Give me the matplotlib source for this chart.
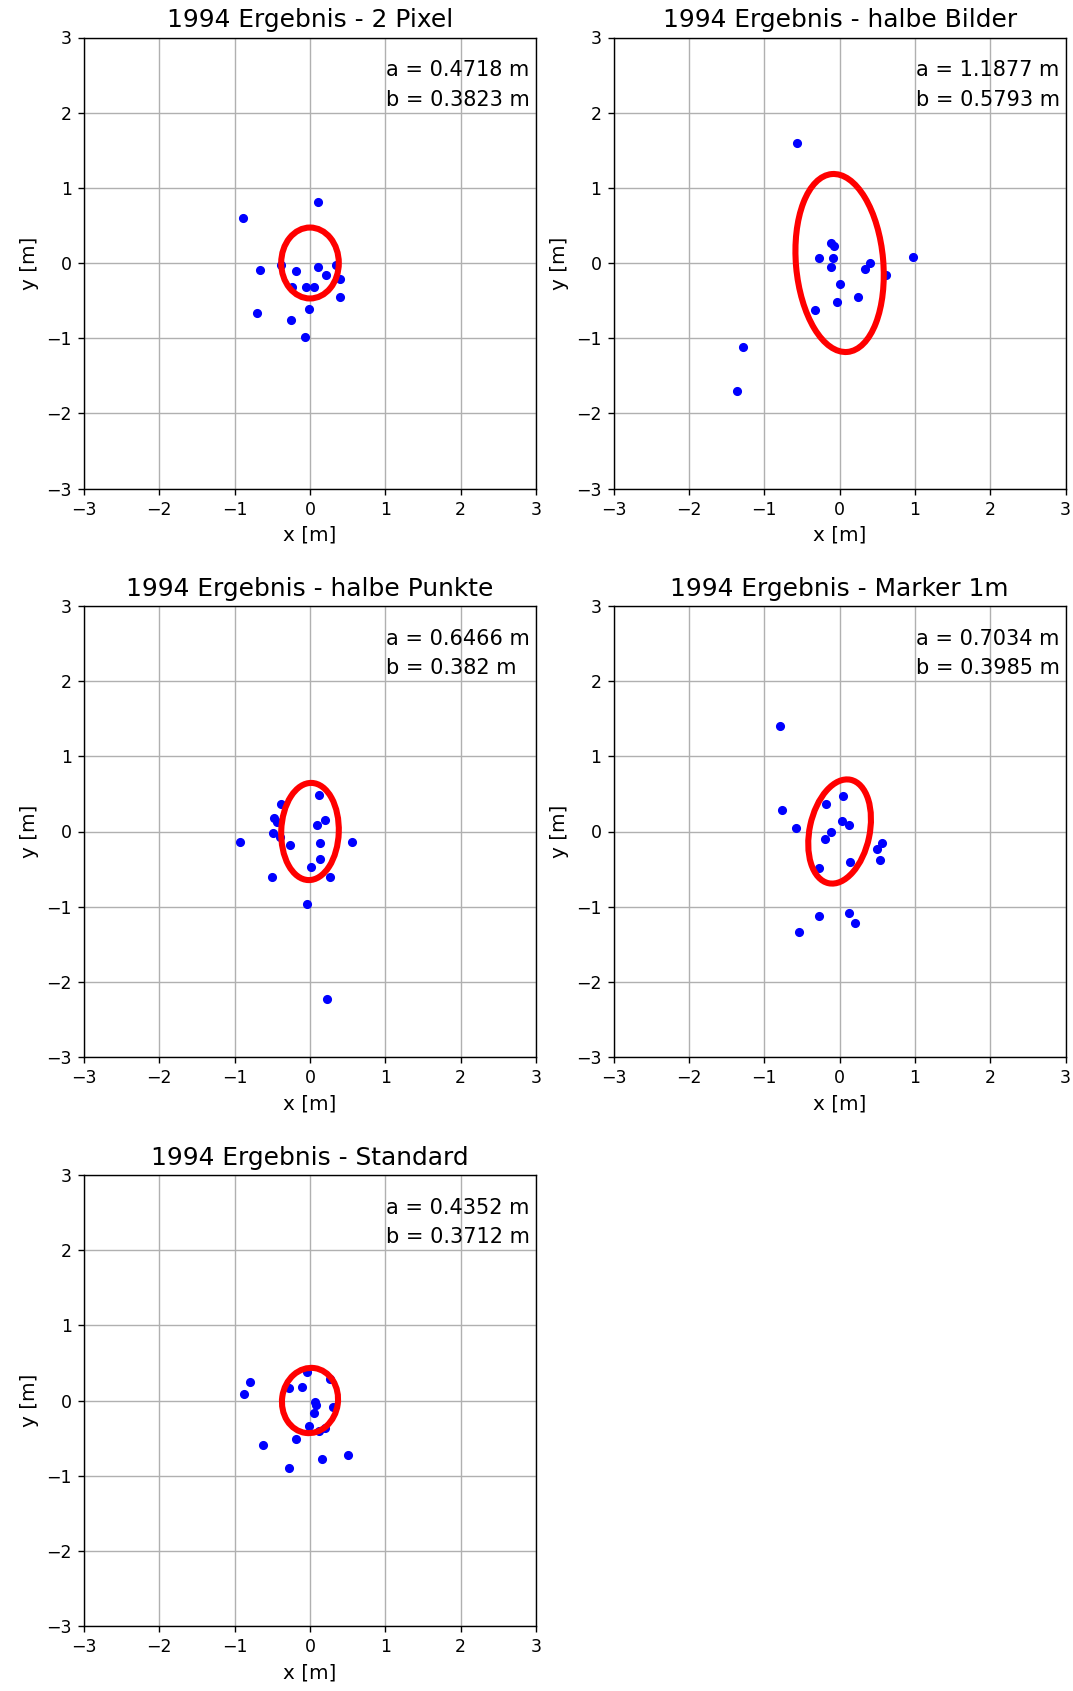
import matplotlib
matplotlib.use("Agg")
import matplotlib.pyplot as plt
from matplotlib.patches import Ellipse

# Titel der Teilbilder
titel = ["1994 Ergebnis - 2 Pixel", "1994 Ergebnis - halbe Bilder",
         "1994 Ergebnis - halbe Punkte", "1994 Ergebnis - Marker 1m",
         "1994 Ergebnis - Standard"]

# Punkte
x_2pixel = [0.11, -0.89, -0.66, -0.39, -0.18, 0.11, 0.21, 0.35, 0.40, -0.24,
            -0.05, 0.05, 0.40, -0.70, -0.25, -0.01, -0.06]
y_2pixel = [0.81, 0.60, -0.09, -0.02, -0.11, -0.05, -0.16, -0.03, -0.21, -0.32,
            -0.32, -0.32, -0.45, -0.66, -0.76, -0.61, -0.99]

x_halbebilder = [-0.57, -0.11, -0.08, -0.27, -0.09, -0.12, 0.41, 0.34, 0.61, 0.97,
                 0.00, 0.24, -0.03, -0.32, -1.28, -1.36]
y_halbebilder = [1.60, 0.27, 0.22, 0.07, 0.06, -0.05, 0.00, -0.08, -0.16, 0.08,
                 -0.28, -0.45, -0.52, -0.62, -1.12, -1.70]

x_halbepunkte = [0.12, -0.38, -0.48, -0.44, 0.20, 0.09, -0.49, -0.40, -0.93, -0.26,
                 0.13, 0.56, 0.13, 0.01, -0.51, 0.26, -0.04, 0.23]
y_halbepunkte = [0.48, 0.36, 0.18, 0.12, 0.15, 0.08, -0.02, -0.07, -0.14, -0.18,
                 -0.15, -0.14, -0.36, -0.47, -0.60, -0.61, -0.97, -2.23]

x_marker = [-0.79, -0.77, -0.58, -0.18, 0.04, 0.03, 0.13, -0.11, -0.19, 0.56,
            0.50, 0.54, 0.14, -0.28, -0.28, 0.12, 0.20, -0.54]
y_marker = [1.40, 0.29, 0.04, 0.37, 0.47, 0.14, 0.08, 0.00, -0.10, -0.15,
            -0.23, -0.38, -0.41, -0.48, -1.13, -1.08, -1.22, -1.34]

x_standard = [-0.80, -0.88, -0.04, -0.28, -0.10, 0.27, 0.06, 0.08, 0.05, 0.30,
              -0.01, 0.12, 0.20, -0.18, -0.62, 0.16, 0.51, -0.28]
y_standard = [0.24, 0.08, 0.38, 0.17, 0.18, 0.28, -0.02, -0.06, -0.17, -0.09,
              -0.34, -0.41, -0.37, -0.51, -0.59, -0.78, -0.73, -0.90]

# Fehlerellipsen: Halbachsen und Drehwinkel
halbachse_a = [0.4718, 1.1877, 0.6466, 0.7034, 0.4352]
halbachse_b = [0.3823, 0.5793, 0.382, 0.3985, 0.3712]
winkel = [90, 95, 88, 78, 82]

xs = [x_2pixel, x_halbebilder, x_halbepunkte, x_marker, x_standard]
ys = [y_2pixel, y_halbebilder, y_halbepunkte, y_marker, y_standard]

W, H = 1073, 1691
fig = plt.figure(figsize=(W / 125, H / 125), dpi=125)

links = [84 / W, 613.6 / W]
unten = [1 - 488.5 / H, 1 - 1057 / H, 1 - 1626 / H]
breite = 452 / W
hoehe = 451 / H

for i in range(5):
    zeile, spalte = divmod(i, 2)
    ax = fig.add_axes([links[spalte], unten[zeile], breite, hoehe])
    ax.scatter(xs[i], ys[i], s=18, color="blue", zorder=3)
    ell = Ellipse((0, 0), 2 * halbachse_a[i], 2 * halbachse_b[i], angle=winkel[i],
                  fill=False, edgecolor="red", linewidth=3.5, zorder=4)
    ax.add_patch(ell)
    ax.set_xlim(-3, 3)
    ax.set_ylim(-3, 3)
    ax.set_xticks(range(-3, 4))
    ax.set_yticks(range(-3, 4))
    ax.grid(True)
    ax.set_axisbelow(True)
    ax.set_xlabel("x [m]", fontsize=11.5)
    ax.set_ylabel("y [m]", fontsize=11.5)
    ax.set_title(titel[i], fontsize=14.3)
    ax.text(0.987, 0.95, f"a = {halbachse_a[i]:g} m\nb = {halbachse_b[i]:g} m",
            transform=ax.transAxes, ha="right", va="top", multialignment="left",
            fontsize=12, linespacing=1.62)

fig.savefig("out.png", dpi=125)
